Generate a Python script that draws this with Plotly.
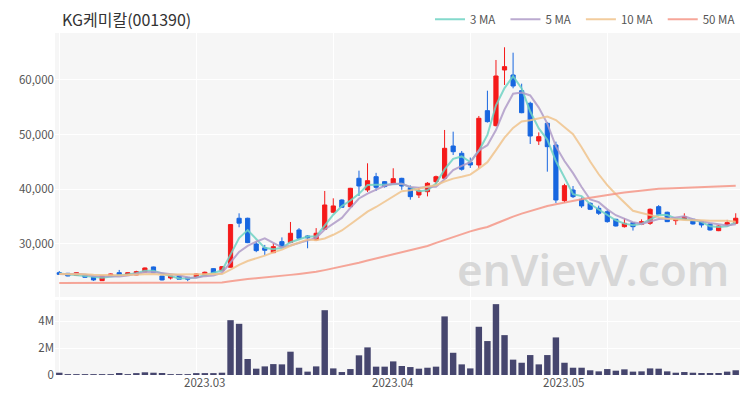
import plotly.graph_objects as go
from plotly.subplots import make_subplots
import pandas as pd

holidays = ["2023-03-01", "2023-05-01", "2023-05-05", "2023-05-29"]
dates = [d.strftime("%Y-%m-%d") for d in pd.bdate_range("2023-02-06", "2023-06-01")
         if d.strftime("%Y-%m-%d") not in holidays]

opens = [24750, 24640, 24280, 24390, 23970, 23290, 24150, 24750, 24280, 24330,
         24880, 25800, 24150, 23780, 24150, 23910, 23910, 24330, 25490, 25120,
         25740, 34700, 34700, 30000, 29300, 28410, 30420, 30240, 32560, 31460,
         30730, 32690, 35800, 38040, 36820, 42010, 39870, 42300, 41390, 41100,
         42000, 40290, 38960, 39560, 41390, 42010, 47910, 46580, 44930, 44440,
         54370, 51630, 61810, 60890, 58020, 55720, 48830, 52060, 48100, 37920,
         39870, 38170, 37440, 36520, 35900, 34510, 33160, 33900, 33600, 33780,
         36820, 35800, 34260, 34510, 34510, 34080, 33660, 32430, 33470, 33780]
highs = [25050, 24700, 24850, 24450, 24000, 24200, 24600, 25250, 24800, 25100,
         25700, 25850, 24200, 24200, 24200, 23950, 24600, 24950, 25550, 25950,
         33600, 35600, 34800, 30400, 29820, 30100, 31200, 34020, 32900, 31600,
         32900, 39690, 38350, 38150, 40250, 43400, 44750, 43000, 41500, 43840,
         42100, 40700, 40300, 41300, 42500, 50840, 50530, 47000, 45800, 53400,
         58020, 63640, 65960, 64970, 59300, 56000, 50400, 52300, 48700, 41000,
         40600, 38500, 37600, 37000, 36200, 34600, 34700, 34000, 34500, 36500,
         37100, 35900, 34600, 35600, 34600, 34250, 33700, 33400, 34400, 35610]
lows = [24400, 24100, 24250, 23850, 23250, 23250, 24100, 24250, 24250, 24300,
        24850, 24700, 23350, 23500, 23500, 23200, 23850, 24300, 24700, 25050,
        25700, 33050, 30150, 28500, 28000, 28350, 29300, 30200, 30800, 29210,
        30650, 32600, 35700, 36600, 36700, 38770, 39500, 39700, 40300, 41000,
        39900, 38100, 38400, 38700, 40900, 41800, 46270, 43400, 43900, 43800,
        52200, 51500, 59070, 58460, 53900, 48280, 48100, 43220, 37500, 37600,
        38400, 36600, 36200, 35300, 33900, 33200, 33000, 32450, 33450, 33500,
        35250, 34000, 33500, 34400, 33550, 33000, 32450, 32350, 33300, 33600]
closes = [24450, 24150, 24750, 23910, 23420, 24150, 24520, 24280, 24750, 24940,
          25610, 24750, 23420, 24150, 23550, 23550, 24520, 24830, 24750, 25850,
          33550, 33800, 30240, 28780, 28850, 29510, 29510, 31960, 31040, 31100,
          31960, 37130, 36950, 36710, 40180, 40600, 41570, 40360, 40500, 41940,
          40600, 38650, 39690, 41100, 42300, 47490, 46870, 43660, 44440, 52980,
          52360, 60710, 62420, 58880, 54000, 49740, 49620, 47790, 38040, 40660,
          38650, 36950, 36340, 35610, 34080, 33290, 33780, 33160, 34080, 36340,
          35430, 34080, 34510, 34990, 33660, 33470, 32560, 33290, 33900, 34700]
volumes = [0.17, 0.05, 0.05, 0.05, 0.05, 0.05, 0.05, 0.15, 0.05, 0.07,
           0.20, 0.17, 0.15, 0.05, 0.05, 0.05, 0.12, 0.12, 0.12, 0.17,
           4.07, 3.80, 1.19, 0.47, 0.64, 0.81, 0.79, 1.73, 0.54, 0.25,
           0.64, 4.81, 0.49, 0.22, 0.44, 1.46, 2.05, 0.62, 0.62, 1.01,
           0.67, 0.59, 0.47, 0.54, 0.62, 4.35, 1.65, 0.79, 0.49, 3.58,
           2.52, 5.26, 2.96, 1.14, 0.91, 1.48, 0.79, 1.48, 2.79, 0.91,
           0.54, 0.54, 0.35, 0.27, 0.44, 0.32, 0.42, 0.25, 0.27, 0.49,
           0.47, 0.27, 0.17, 0.22, 0.17, 0.15, 0.15, 0.15, 0.25, 0.35]
volumes = [v * 1e6 for v in volumes]

# closes before the visible window (estimated), used for the short moving averages
prior_closes = [24300, 24500, 24600, 24400, 24700, 24500, 24300, 24600, 24800]

# 50-day moving average
ma50 = [22850, 22850, 22860, 22860, 22870, 22870, 22880, 22880, 22890, 22890,
        22900, 22900, 22910, 22910, 22920, 22920, 22930, 22940, 22950, 22970,
        23200, 23430, 23590, 23720, 23850, 24000, 24150, 24350, 24530, 24710,
        24910, 25220, 25530, 25830, 26200, 26580, 26980, 27350, 27730, 28140,
        28520, 28870, 29230, 29620, 30200, 30750, 31300, 31800, 32300, 32750,
        33100, 33750, 34400, 35000, 35550, 36050, 36500, 36950, 37250, 37600,
        37880, 38160, 38450, 38720, 38960, 39180, 39390, 39590, 39790, 39990,
        40090, 40150, 40220, 40300, 40370, 40430, 40480, 40530, 40590, 40650]

month_label_idx = [17, 39, 59]
month_labels = ["2023.03", "2023.04", "2023.05"]

ext = prior_closes + closes
def mov_avg(n):
    off = len(prior_closes)
    return [sum(ext[off + i - n + 1: off + i + 1]) / n for i in range(len(closes))]

ma3, ma5, ma10 = mov_avg(3), mov_avg(5), mov_avg(10)

FONT = "Noto Sans CJK KR"
UP, DOWN = "#f51a1a", "#1766e0"
PAD = "\u00a0\u00a0"

fig = make_subplots(rows=2, cols=1, shared_xaxes=True)

fig.add_trace(go.Candlestick(x=dates, open=opens, high=highs, low=lows, close=closes,
                             increasing=dict(line=dict(color=UP, width=1), fillcolor=UP),
                             decreasing=dict(line=dict(color=DOWN, width=1), fillcolor=DOWN),
                             whiskerwidth=0, showlegend=False, hoverinfo="skip"),
              row=1, col=1)

for name, vals, col in [("3 MA", ma3, "rgba(110,210,195,0.85)"),
                        ("5 MA", ma5, "rgba(175,155,200,0.85)"),
                        ("10 MA", ma10, "rgba(240,195,140,0.85)"),
                        ("50 MA", ma50, "rgba(245,150,135,0.85)")]:
    fig.add_trace(go.Scatter(x=dates, y=vals, mode="lines",
                             name=name + (PAD if name != "50 MA" else ""),
                             line=dict(color=col, width=2), hoverinfo="skip"),
                  row=1, col=1)

fig.add_trace(go.Bar(x=dates, y=volumes, marker=dict(color="#46466e", line=dict(width=0)),
                     showlegend=False, hoverinfo="skip"), row=2, col=1)

grid_vals = [dates[i] for i in range(0, len(dates), 16)]
xcommon = dict(type="category", range=[-0.5, len(dates) - 0.5], tickvals=grid_vals,
               ticktext=[""] * len(grid_vals), showgrid=True, gridcolor="#ffffff",
               gridwidth=1, zeroline=False, showline=False, ticks="",
               rangeslider=dict(visible=False))

fig.update_layout(
    width=742, height=392,
    margin=dict(l=47, r=10, t=25, b=25, autoexpand=False),
    paper_bgcolor="#ffffff", plot_bgcolor="#f6f6f6",
    font=dict(family=FONT, size=11, color="#555555"),
    bargap=0.25,
    xaxis=dict(**xcommon, showticklabels=False),
    xaxis2=dict(**xcommon, showticklabels=False),
    yaxis=dict(domain=[0.228, 1], range=[20300, 68570], tickvals=[30000, 40000, 50000, 60000],
               ticktext=["30,000", "40,000", "50,000", "60,000"], gridcolor="#ffffff",
               gridwidth=1, zeroline=False, ticks="", automargin=False,
               tickfont=dict(size=11.5, color="#555555")),
    yaxis2=dict(domain=[0, 0.219], range=[0, 5.56e6], tickvals=[0, 2e6, 4e6],
                ticktext=["0", "2M", "4M"], gridcolor="#ffffff", gridwidth=1,
                zeroline=False, ticks="", automargin=False,
                tickfont=dict(size=11.5, color="#555555")),
    legend=dict(orientation="h", x=1.0, xanchor="right", y=1.04, yanchor="middle",
                font=dict(size=11.5, color="#555555"), bgcolor="rgba(0,0,0,0)",
                itemwidth=30, tracegroupgap=0),
    showlegend=True,
)

annotations = [
    dict(text="KG케미칼(001390)", x=0.008, xref="paper", xanchor="left",
         y=1.04, yref="paper", yanchor="middle", showarrow=False,
         font=dict(size=16, color="#333333", family=FONT)),
    dict(text="enVievV.com", x=0.785, xref="paper", xanchor="center",
         y=0.31, yref="paper", yanchor="middle", showarrow=False,
         font=dict(size=44, color="rgba(195,195,195,0.6)", family="Noto Sans", weight=600)),
]
for idx, lab in zip(month_label_idx, month_labels):
    annotations.append(dict(text=lab, x=idx, xref="x2", xanchor="center",
                            y=-0.02, yref="paper", yanchor="middle", showarrow=False,
                            font=dict(size=11.5, color="#555555")))
fig.update_layout(annotations=annotations)

fig.write_html("out.html")
